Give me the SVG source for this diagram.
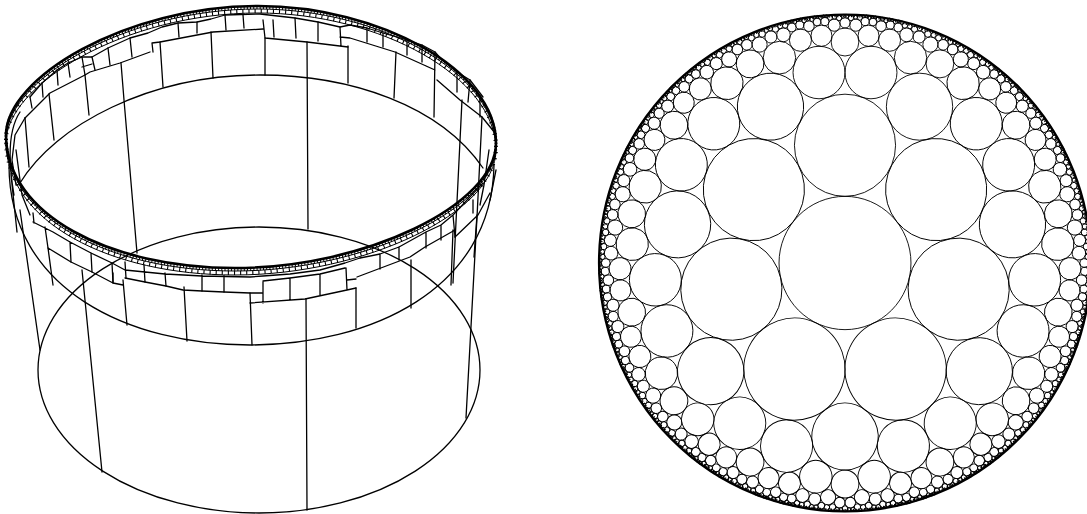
<svg xmlns="http://www.w3.org/2000/svg" width="1087" height="514" viewBox="0 0 1087 514">
<style>
.w{fill:none;stroke:#000;stroke-width:1.3;stroke-linejoin:round;stroke-linecap:round}
.t{fill:none;stroke:#000;stroke-width:2.6}
.p{fill:none;stroke:#000;stroke-width:.9}
</style>
<defs>
<path id="rim" d="M6,135C6,78 125,6 258,6C380,6 496,70 496,143C496,205 365,268 235,268C110,268 6,215 6,135Z"/>
<g id="half" class="p">
<circle cx="26.25" cy="-190.48" r="26.25"/>
<circle cx="66.19" cy="-205.33" r="16.35"/>
<circle cx="45.01" cy="-222.8" r="11.12"/>
<circle cx="23.77" cy="-227.23" r="10.58"/>
<circle cx="10.93" cy="-237.81" r="6.06"/>
<circle cx="20.35" cy="-241.43" r="4.03"/>
<circle cx="28.23" cy="-240.96" r="3.87"/>
<circle cx="36.44" cy="-236.83" r="5.32"/>
<circle cx="45.72" cy="-237.93" r="4.03"/>
<circle cx="53.76" cy="-235.56" r="4.36"/>
<circle cx="62.14" cy="-228.14" r="6.83"/>
<circle cx="74.85" cy="-225.99" r="6.06"/>
<circle cx="86.23" cy="-218.43" r="7.6"/>
<circle cx="99.15" cy="-218.14" r="5.32"/>
<circle cx="1.84" cy="-246.77" r="1.84"/>
<circle cx="5.99" cy="-245.02" r="2.67"/>
<circle cx="10.67" cy="-245.99" r="2.11"/>
<circle cx="15.11" cy="-245.16" r="2.4"/>
<circle cx="18.71" cy="-246.72" r="1.52"/>
<circle cx="21.63" cy="-246.71" r="1.4"/>
<circle cx="24.66" cy="-245.46" r="1.88"/>
<circle cx="27.82" cy="-246.18" r="1.36"/>
<circle cx="30.56" cy="-245.72" r="1.43"/>
<circle cx="33.6" cy="-243.77" r="2.18"/>
<circle cx="37.62" cy="-243.88" r="1.84"/>
<circle cx="41.43" cy="-242.47" r="2.22"/>
<circle cx="45.01" cy="-243.39" r="1.47"/>
<circle cx="47.88" cy="-242.94" r="1.43"/>
<circle cx="50.8" cy="-241.17" r="1.99"/>
<circle cx="54.3" cy="-241.41" r="1.52"/>
<circle cx="57.31" cy="-240.41" r="1.66"/>
<circle cx="60.51" cy="-237.5" r="2.67"/>
<circle cx="65.52" cy="-236.73" r="2.4"/>
<circle cx="70.23" cy="-233.9" r="3.1"/>
<circle cx="75.5" cy="-234.22" r="2.18"/>
<circle cx="79.65" cy="-232.75" r="2.22"/>
<circle cx="83.7" cy="-229.02" r="3.28"/>
<circle cx="89.58" cy="-228.13" r="2.67"/>
<circle cx="94.53" cy="-225.17" r="3.09"/>
<circle cx="99.61" cy="-225.44" r="1.99"/>
<circle cx="103.23" cy="-224.07" r="1.88"/>
</g>
<g id="sector">
<use href="#half"/><use href="#half" transform="scale(-1,1)"/>
<g class="p">
<circle cx="0" cy="-117.74" r="51.08"/>
<circle cx="0" cy="-220.99" r="14"/>
<circle cx="0" cy="-240.08" r="5.1"/>
<circle cx="75.28" cy="-156.31" r="33.5"/>
<circle cx="95.88" cy="-199.11" r="14"/>
<circle cx="106.45" cy="-221.05" r="2.54"/>
</g>
</g>
</defs>
<rect width="1087" height="514" fill="#fff"/>
<g id="cylinder">
<ellipse class="w" cx="259" cy="370" rx="221" ry="143"/>
<use href="#rim" class="t"/>
<use href="#rim" class="w" transform="translate(0,3)" style="stroke-width:1"/>
<use href="#rim" class="w" transform="translate(0,7)" style="stroke-width:1"/>
<use href="#rim" class="w" transform="translate(0,1.5)" style="stroke-width:3;stroke-dasharray:1 2.2;stroke-linecap:butt"/>
<use href="#rim" class="w" transform="translate(0,5)" style="stroke-width:4;stroke-dasharray:1.1 5;stroke-linecap:butt"/>
<path class="w" d="M20,183C55,125 150,75 260,75C350,75 440,105 483,168"/>
<path class="w" d="M9,165C9,290 130,345 250,345C370,345 492,290 494,165"/>
<path class="w" d="M25,118L50,93L85,75L90,72L120,63L150,52M85,75L82,57M82,67L92,64M152,43L153,52M160,42L213,32L263,29M152,43L160,42M263,20L265,38L307,42L348,47M340,27L341,46M340,37L350,38L395,52L435,70M435,52L434,117M426,66L435,70M437,80L460,100L482,117L495,133"/>
<path class="w" d="M29,167L25,118M54,140L49,94M89,115L85,75M121,63L124,100L137,253M163,87L160,42M213,78L211,32M265,38L265,75M307,42L308,229M348,46L348,83M396,52L394,98M462,100L453,283M482,117L477,217L466,418"/>
<path class="w" d="M25,118L15,135L12,160L16,185M30,97L42,83L57,70L68,63L82,57L92,57L108,48L130,38L148,33L162,27L178,23L197,22L211,19L225,15L260,14L295,18L318,22L340,27L350,25L367,28L383,33L407,40L422,45L435,52L442,60L457,72L470,80L483,97"/>
<path class="w" d="M108,48L110,65M130,38L132,57M92,57L95,70M68,63L70,77M57,70L58,85M42,83L43,97M30,97L32,108M178,23L179,37M197,22L197,33M225,15L226,30M243,15L244,28M273,20L274,37M295,18L296,38M318,22L318,41M367,28L367,42M383,33L383,47M407,40L407,55M422,45L422,62M457,72L457,92M470,80L468,102M480,97L480,117"/>
<path class="w" d="M48,248L71,262L92,272L113,283L123,285M48,248L53,285M123,280L127,325M113,273L113,283M82,270L102,472M20,210L40,350M184,287L187,341M250,293L252,345M306,299L307,510M356,288L356,328M411,260L411,308M453,230L451,285M477,215L474,257"/>
<path class="w" d="M125,278L145,282L166,286L183,290L202,291L224,292L250,293L262,293M250,303L305,299L347,290L356,288M263,281L290,278L320,274L345,268M263,282L263,303M290,278L290,300M320,275L320,295M346,268L347,290M357,277L410,257L425,247L455,230M455,237L478,215L490,193M347,280L356,279"/>
<path class="w" d="M380,254L380,269M399,247L399,260M426,232L426,248M441,225L441,240M453,215L455,237M473,200L473,213M360,258L380,254L399,247L426,232L441,225L453,215L483,183"/>
<path class="w" d="M33,222L45,228L53,232L70,242L91,253L112,263L125,270L165,274L202,276L250,277L263,276L290,274L320,270L345,263L360,258M33,213L34,223M45,227L48,248M70,242L71,262M91,253L92,272M112,263L113,283M125,262L126,278M144,265L145,282M165,273L166,286M202,275L202,291M224,276L224,292"/>
<path class="w" d="M20,112C8,130 8,160 14,195M11,175L17,232M16,150L22,195L30,215M489,150L484,185L480,205M496,170L490,200"/>
</g>
<g id="packing" transform="translate(845,263) scale(.99,1)">
<circle class="p" r="66.65"/>
<use href="#sector"/>
<use href="#sector" transform="rotate(51.4286)"/>
<use href="#sector" transform="rotate(102.8571)"/>
<use href="#sector" transform="rotate(154.2857)"/>
<use href="#sector" transform="rotate(205.7143)"/>
<use href="#sector" transform="rotate(257.1429)"/>
<use href="#sector" transform="rotate(308.5714)"/>
<circle r="248.4" fill="none" stroke="#000" stroke-width="2.4"/>
<circle r="246.6" fill="none" stroke="#000" stroke-width="1.3" stroke-dasharray="1.3 1.5"/>
</g>
</svg>
